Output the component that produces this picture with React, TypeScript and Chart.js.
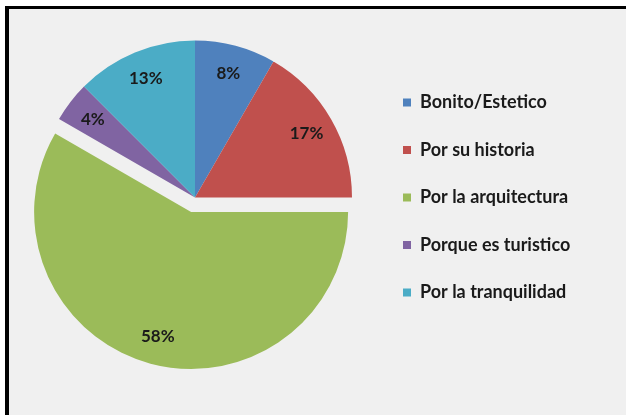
import React, { useEffect, useRef } from "react";
import { Chart, registerables } from "chart.js";

Chart.register(...registerables);

const categories = [
  "Bonito/Estetico",
  "Por su historia",
  "Por la arquitectura",
  "Porque es turistico",
  "Por la tranquilidad",
];
const counts = [2, 4, 14, 1, 3];
const sliceColors = ["#4F81BD", "#C0504D", "#9BBB59", "#8064A2", "#4BACC6"];
const sliceExplode = [0, 0, 15, 0, 0];

const FONT = "Lato, 'Open Sans', sans-serif";
const LEGEND_FONT_SIZE = 18;

const explodePlugin = {
  id: "explodeSlices",
  afterDatasetUpdate(chart: any, args: any) {
    const meta = chart.getDatasetMeta(args.index);
    meta.data.forEach((arc: any, i: number) => {
      const d = sliceExplode[i] || 0;
      if (!d) return;
      const mid = (arc.startAngle + arc.endAngle) / 2;
      arc.x += Math.cos(mid) * d;
      arc.y += Math.sin(mid) * d;
    });
  },
};

const pctLabels = {
  id: "pctLabels",
  afterDatasetsDraw(chart: any) {
    const meta = chart.getDatasetMeta(0);
    const data = chart.data.datasets[0].data as number[];
    const total = data.reduce((a, b) => a + b, 0);
    const ctx = chart.ctx;
    ctx.save();
    ctx.font = `bold 17px ${FONT}`;
    ctx.fillStyle = "#1a1a1a";
    ctx.textAlign = "center";
    ctx.textBaseline = "middle";
    meta.data.forEach((arc: any, i: number) => {
      const p = arc.getProps(["x", "y", "startAngle", "endAngle", "outerRadius"], true);
      const mid = (p.startAngle + p.endAngle) / 2;
      const r = p.outerRadius * 0.82;
      const x = p.x + Math.cos(mid) * r;
      const y = p.y + Math.sin(mid) * r;
      ctx.fillText(Math.round((data[i] / total) * 100) + "%", x, y);
    });
    ctx.restore();
  },
};

export default function App() {
  const ref = useRef<HTMLCanvasElement | null>(null);

  useEffect(() => {
    const canvas = ref.current!;
    const itemX = 403;
    const boxW = 8;
    const legendPad = 29.5;
    const legendLeft = itemX - legendPad;
    const cx = 195;
    const padLeft = 2 * cx - legendLeft;

    const chart = new Chart(canvas, {
      type: "pie",
      data: {
        labels: categories,
        datasets: [
          {
            data: counts,
            backgroundColor: sliceColors,
            borderWidth: 0,
            radius: 157,
          } as any,
        ],
      },
      options: {
        responsive: false,
        animation: false,
        layout: {
          padding: { left: padLeft, right: 40, top: 0, bottom: 20 },
        },
        plugins: {
          tooltip: { enabled: false },
          legend: {
            position: "right",
            align: "center",
            labels: {
              boxWidth: boxW,
              boxHeight: 8,
              padding: legendPad,
              color: "#1a1a1a",
              font: { family: FONT, size: LEGEND_FONT_SIZE, weight: "bold" },
            },
          },
        },
      } as any,
      plugins: [explodePlugin, pctLabels],
    });
    const lg: any = chart.legend;
    if (lg) {
      const diff = lg.left + legendPad - itemX;
      (chart.options as any).layout.padding.right += diff;
      chart.update();
    }
    return () => chart.destroy();
  }, []);

  return (
    <div
      style={{
        position: "fixed",
        left: 0,
        top: 0,
        width: 700,
        height: 480,
        background: "#ffffff",
        overflow: "hidden",
      }}
    >
      <div
        style={{
          position: "absolute",
          left: 5,
          top: 6,
          width: 695,
          height: 474,
          boxSizing: "border-box",
          borderTop: "3px solid #000",
          borderLeft: "4px solid #000",
          background: "#f0f0f0",
        }}
      />
      <canvas
        ref={ref}
        width={626}
        height={415}
        style={{ position: "absolute", left: 0, top: 0, width: 626, height: 415 }}
      />
    </div>
  );
}
